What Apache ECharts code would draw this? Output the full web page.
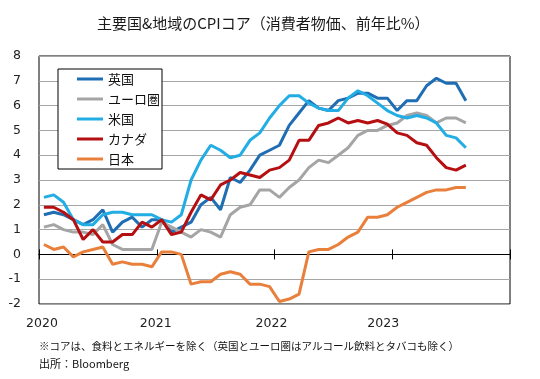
<!DOCTYPE html>
<html>
<head>
<meta charset="utf-8">
<script src="https://cdn.jsdelivr.net/npm/echarts@6/dist/echarts.min.js"></script>
<style>
html,body{margin:0;padding:0;background:#fff;}
#chart{width:540px;height:379px;}
</style>
</head>
<body>
<div id="chart"></div>
<script>
// Monthly data, Jan 2020 - Aug 2023 (YoY %)
const startYear = 2020;
const yearTicks = ['2020', '2021', '2022', '2023'];
const seriesNames = ['英国', 'ユーロ圏', '米国', 'カナダ', '日本'];
const uk = [1.6,1.7,1.6,1.4,1.2,1.4,1.8,0.9,1.3,1.5,1.1,1.4,
            1.4,0.9,1.1,1.3,2.0,2.3,1.8,3.1,2.9,3.4,4.0,4.2,
            4.4,5.2,5.7,6.2,5.9,5.8,6.2,6.3,6.5,6.5,6.3,6.3,
            5.8,6.2,6.2,6.8,7.1,6.9,6.9,6.2];
const euro = [1.1,1.2,1.0,0.9,0.9,0.8,1.2,0.4,0.2,0.2,0.2,0.2,
              1.3,1.1,0.9,0.7,1.0,0.9,0.7,1.6,1.9,2.0,2.6,2.6,
              2.3,2.7,3.0,3.5,3.8,3.7,4.0,4.3,4.8,5.0,5.0,5.2,
              5.3,5.6,5.7,5.6,5.3,5.5,5.5,5.3];
const us = [2.3,2.4,2.1,1.4,1.2,1.2,1.6,1.7,1.7,1.6,1.6,1.6,
            1.4,1.3,1.6,3.0,3.8,4.4,4.2,3.9,4.0,4.6,4.9,5.5,
            6.0,6.4,6.4,6.1,5.9,5.8,5.8,6.3,6.6,6.4,6.1,5.8,
            5.6,5.5,5.6,5.5,5.3,4.8,4.7,4.3];
const canada = [1.9,1.9,1.7,1.4,0.6,1.0,0.5,0.5,0.8,0.8,1.3,1.1,
                1.4,0.8,0.9,1.7,2.4,2.2,2.8,3.0,3.3,3.2,3.1,3.4,
                3.5,3.8,4.6,4.6,5.2,5.3,5.5,5.3,5.4,5.3,5.4,5.25,
                4.9,4.8,4.5,4.4,3.9,3.5,3.4,3.6];
const japan = [0.4,0.2,0.3,-0.1,0.1,0.2,0.3,-0.4,-0.3,-0.4,-0.4,-0.5,
               0.1,0.1,0.0,-1.2,-1.1,-1.1,-0.8,-0.7,-0.8,-1.2,-1.2,-1.3,
               -1.9,-1.8,-1.6,0.1,0.2,0.2,0.4,0.7,0.9,1.5,1.5,1.6,
               1.9,2.1,2.3,2.5,2.6,2.6,2.7,2.7];
const colors = ['#1F6EB3', '#A5A5A5', '#22ADE4', '#B50F12', '#E8803C'];

const allData = [uk, euro, us, canada, japan];
function toPoints(arr) {
  // place each monthly value at the middle of its month on a month-index axis
  return arr.map((v, i) => [i + 0.5, v]);
}

const chart = echarts.init(document.getElementById('chart'), null, {renderer: 'canvas'});
const axisFont = 'DejaVu Sans';
const cjk = '"Noto Sans CJK JP", "Noto Sans", sans-serif';
const labelShift = {y0: [0,0,0,6], y1: [0,2,0,0], y2: [0,6,0,0], y3: [0,18,0,0]};
const rich = {};
Object.keys(labelShift).forEach(k => {
  rich[k] = {padding: labelShift[k], fontSize: 12.5, fontFamily: axisFont, color: '#222'};
});

const baseX = {type: 'value', min: 0, max: 48, interval: 12, splitLine: {show: false}};

chart.setOption({
  animation: false,
  backgroundColor: '#fff',
  title: {
    text: '主要国&地域のCPIコア（消費者物価、前年比%）',
    left: 97, top: 16, padding: 0,
    textStyle: {fontFamily: cjk, fontSize: 15, fontWeight: 'normal', color: '#1a1a1a'}
  },
  grid: {left: 39, right: 30, top: 56, bottom: 75, show: true, borderColor: '#000', borderWidth: 1, backgroundColor: 'transparent'},
  legend: {
    data: seriesNames,
    orient: 'vertical',
    left: 58, top: 69,
    padding: [3, 2, 3, 19],
    itemGap: 6,
    itemWidth: 26, itemHeight: 3,
    icon: 'rect',
    backgroundColor: '#fff',
    borderColor: '#000', borderWidth: 1,
    textStyle: {fontFamily: cjk, fontSize: 13, color: '#111', lineHeight: 14}
  },
  xAxis: [
    Object.assign({}, baseX, {
      position: 'bottom',
      axisLine: {show: false, onZero: false},
      axisTick: {show: false},
      axisLabel: {
        margin: 13,
        formatter: function (v) {
          const idx = Math.round(v / 12);
          if (idx >= yearTicks.length) return '';
          return '{y' + idx + '|' + yearTicks[idx] + '}';
        },
        rich: rich
      }
    }),
    Object.assign({}, baseX, {
      position: 'bottom',
      axisLine: {show: true, onZero: true, onZeroAxisIndex: 0, lineStyle: {color: '#000', width: 1}},
      axisTick: {show: true, length: 5, lineStyle: {color: '#000'}},
      axisLabel: {show: false}
    }),
    Object.assign({}, baseX, {
      position: 'top',
      axisLine: {show: true, onZero: true, onZeroAxisIndex: 0, lineStyle: {color: '#000', width: 1}},
      axisTick: {show: true, length: 5, lineStyle: {color: '#000'}},
      axisLabel: {show: false}
    })
  ],
  yAxis: {
    type: 'value', min: -2, max: 8, interval: 1,
    axisLine: {show: false},
    axisTick: {show: false},
    axisLabel: {margin: 18, fontFamily: axisFont, fontSize: 12.5, color: '#222'},
    splitLine: {show: true, lineStyle: {color: '#A6A6A6', width: 1}}
  },
  series: seriesNames.map((name, k) => ({
    name: name,
    type: 'line',
    xAxisIndex: 0,
    data: toPoints(allData[k]),
    showSymbol: false,
    symbol: 'none',
    color: colors[k],
    lineStyle: {width: 3, color: colors[k]},
    itemStyle: {color: colors[k]}
  })),
  graphic: [
    {type: 'text', left: 39, top: 341, style: {text: '※コアは、食料とエネルギーを除く（英国とユーロ圏はアルコール飲料とタバコも除く）', font: '10.5px "Noto Sans CJK JP"', fill: '#111'}},
    {type: 'text', left: 39, top: 358, style: {text: '出所：Bloomberg', font: '11px "Noto Sans CJK JP"', fill: '#111'}}
  ]
});
</script>
</body>
</html>
